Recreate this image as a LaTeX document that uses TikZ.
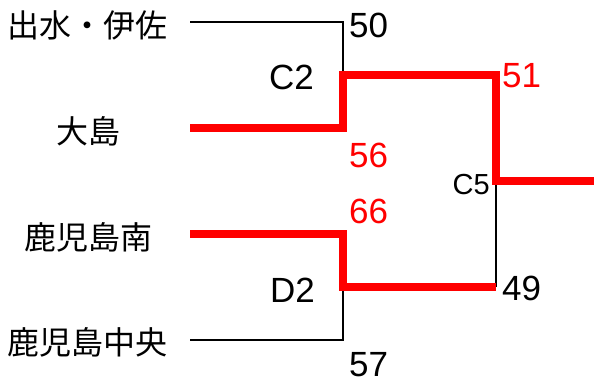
\documentclass[tikz,border=0pt]{standalone}
\usepackage{fontspec}
\setmainfont{Liberation Sans}
\newfontfamily\jpfont{Noto Sans CJK JP}
\definecolor{winred}{RGB}{255,0,0}
\begin{document}
\begin{tikzpicture}[x=1pt,y=-1pt,
  team/.style={inner sep=0pt,anchor=center,font=\jpfont\fontsize{32}{36}\selectfont},
  score/.style={inner sep=0pt,anchor=west,font=\fontsize{35}{38}\selectfont},
  gamelbl/.style={inner sep=0pt,anchor=east,font=\fontsize{35}{38}\selectfont},
  small/.style={inner sep=0pt,anchor=east,font=\fontsize{29}{32}\selectfont},
  lose/.style={draw=black,line width=1.6pt,line join=miter},
  win/.style={draw=winred,line width=8pt,line join=miter}]
\useasboundingbox (0,0) rectangle (594,383);
% teams
\node[team] (t1) at (88,25) {出水・伊佐};
\node[team] (t2) at (88,131) {大島};
\node[team] (t3) at (88,237) {鹿児島南};
\node[team] (t4) at (88,342) {鹿児島中央};
% line ends
\coordinate (a1) at (190,22);
\coordinate (a2) at (190,127.5);
\coordinate (a3) at (190,234);
\coordinate (a4) at (190,340);
\coordinate (c2) at (343,75);
\coordinate (d2) at (343,287);
\coordinate (c5) at (496,181);
\coordinate (fin) at (594,181);
% losing lines
\draw[lose] (a1) -| (c2);
\draw[lose] (a4) -| (d2);
\draw[lose] (c5) -- (496,287);
% winning lines
\draw[win] (a2) -| (c2) -- (c5 |- c2) -- (c5) -- (fin);
\draw[win] (a3) -| (d2) -- (c5 |- d2);
% labels
\node[score] (s50) at (349,25) {50};
\node[score,text=winred] (s56) at (349,155) {56};
\node[score,text=winred] (s66) at (349,211) {66};
\node[score] (s57) at (349,365) {57};
\node[score,text=winred] (s51) at (502,76) {51};
\node[score] (s49) at (502,288) {49};
\node[gamelbl] (lc2) at (314,77) {C2};
\node[gamelbl] (ld2) at (315,290) {D2};
\node[small] (lc5) at (490,185) {C5};
\end{tikzpicture}
\end{document}
